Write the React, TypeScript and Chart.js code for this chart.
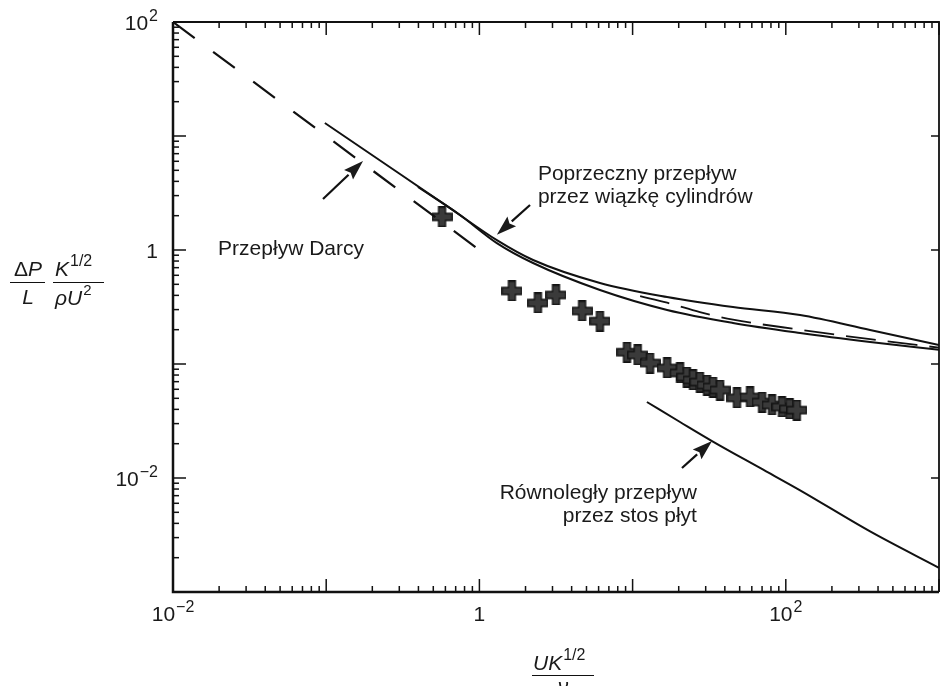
import React, { useEffect, useRef } from "react";
import { Chart, registerables } from "chart.js";

Chart.register(...registerables);

const FONT = '"Liberation Sans", Arial, Helvetica, sans-serif';

// ---------- data ----------
// Darcy flow (dashed)
const darcyX = [0.01, 1];
const darcyY = [100, 1];

// Cross flow through a bundle of cylinders (three curves)
const bundle1X = [0.098, 0.303, 0.643, 1.3, 2.24, 6.12, 16.8, 45.2, 124, 355, 1000];
const bundle1Y = [13.0, 4.64, 2.33, 1.22, 0.817, 0.514, 0.387, 0.316, 0.269, 0.199, 0.147];
const bundle2X = [0.397, 0.746, 1.3, 2.24, 6.12, 16.8, 45.2, 124, 355, 1000];
const bundle2Y = [3.57, 2.03, 1.15, 0.769, 0.446, 0.298, 0.229, 0.187, 0.156, 0.133];
const bundle3X = [11.2, 16.8, 27.5, 45.2, 124, 355, 1000];
const bundle3Y = [0.394, 0.345, 0.285, 0.245, 0.2, 0.165, 0.139];

// Parallel flow through a stack of plates
const platesX = [12.4, 20.4, 33.0, 67.9, 124, 355, 1000];
const platesY = [0.0464, 0.031, 0.0211, 0.01225, 0.0078, 0.0034, 0.00163];

// Experimental points (crosses)
const expX = [0.57, 1.63, 2.41, 3.16, 4.68, 6.12, 9.19, 10.8, 13.0, 16.8, 20.4, 22.6, 24.8, 27.5, 30.6, 33.5, 37.2, 48, 58.4, 70, 81.3, 94.4, 106, 118];
const expY = [1.95, 0.437, 0.343, 0.403, 0.292, 0.238, 0.127, 0.12, 0.102, 0.0923, 0.0834, 0.0769, 0.0724, 0.0695, 0.0654, 0.0628, 0.0591, 0.0504, 0.0514, 0.0464, 0.0437, 0.042, 0.0403, 0.0394];

// Axis ticks
const xMin = 0.01, xMax = 1000;
const yMin = 0.001, yMax = 100;
const xTickValues = [0.01, 1, 100];
const xTickBase = ["10", "1", "10"];
const xTickExp = ["\u22122", "", "2"];
const yTickValues = [100, 1, 0.01];
const yTickBase = ["10", "1", "10"];
const yTickExp = ["2", "", "\u22122"];

// Annotations (anchored in data coordinates)
const noteLines = [["Przepływ Darcy"], ["Poprzeczny przepływ", "przez wiązkę cylindrów"], ["Równoległy przepływ", "przez stos płyt"]];
const noteX = [0.0197, 2.41, 26.3];
const noteY = [1.02, 4.64, 0.0074];
const noteAlign = ["left", "left", "right"];
const arrowTailX = [0.0953, 2.14, 21];
const arrowTailY = [2.8, 2.48, 0.01225];
const arrowTipX = [0.174, 1.3, 33];
const arrowTipY = [6.04, 1.36, 0.0211];

const pts = (xs: number[], ys: number[]) => xs.map((x, i) => ({ x, y: ys[i] }));

function makeCross(size: number, arm: number) {
  const c = document.createElement("canvas");
  c.width = size;
  c.height = size;
  const g = c.getContext("2d")!;
  const a = (size - arm) / 2;
  const s = size - 0.75;
  const o = 0.75;
  g.beginPath();
  g.moveTo(a, o);
  g.lineTo(a + arm, o);
  g.lineTo(a + arm, a);
  g.lineTo(s, a);
  g.lineTo(s, a + arm);
  g.lineTo(a + arm, a + arm);
  g.lineTo(a + arm, s);
  g.lineTo(a, s);
  g.lineTo(a, a + arm);
  g.lineTo(o, a + arm);
  g.lineTo(o, a);
  g.lineTo(a, a);
  g.closePath();
  g.fillStyle = "#3a3a3a";
  g.fill();
  g.strokeStyle = "#111";
  g.lineWidth = 1.3;
  g.stroke();
  return c;
}

function drawSup(ctx: CanvasRenderingContext2D, base: string, exp: string, x: number, baseY: number, align: string, size: number, expSize: number, rise: number, italic = false) {
  const bf = `${italic ? "italic " : ""}${size}px ${FONT}`;
  const ef = `${expSize}px ${FONT}`;
  ctx.font = bf;
  const wb = ctx.measureText(base).width;
  ctx.font = ef;
  const we = exp ? ctx.measureText(exp).width + 1 : 0;
  const w = wb + we;
  let sx = x;
  if (align === "center") sx = x - w / 2;
  else if (align === "right") sx = x - w;
  ctx.textAlign = "left";
  ctx.textBaseline = "alphabetic";
  ctx.font = bf;
  ctx.fillText(base, sx, baseY);
  if (exp) {
    ctx.font = ef;
    ctx.fillText(exp, sx + wb + 1, baseY - rise);
  }
}

const decorPlugin = {
  id: "decor",
  afterDatasetsDraw(chart: any) {
    const { ctx, chartArea: a, scales } = chart;
    const xs = scales.x;
    const ys = scales.y;
    ctx.save();
    ctx.fillStyle = "#1a1a1a";
    ctx.strokeStyle = "#111";

    // frame
    ctx.lineWidth = 2.5;
    ctx.beginPath();
    ctx.moveTo(a.left, a.top);
    ctx.lineTo(a.left, a.bottom);
    ctx.lineTo(a.right, a.bottom);
    ctx.stroke();
    ctx.lineWidth = 1.8;
    ctx.beginPath();
    ctx.moveTo(a.left, a.top);
    ctx.lineTo(a.right, a.top);
    ctx.lineTo(a.right, a.bottom);
    ctx.stroke();

    // inward ticks
    ctx.lineWidth = 1.5;
    const major = 13, minor = 6;
    for (let e = -2; e <= 3; e++) {
      for (let m = 1; m <= 9; m++) {
        const v = m * Math.pow(10, e);
        if (v < xMin - 1e-12 || v > xMax + 1e-9) continue;
        const px = xs.getPixelForValue(v);
        const L = m === 1 ? major : minor;
        ctx.beginPath();
        ctx.moveTo(px, a.bottom);
        ctx.lineTo(px, a.bottom - L);
        ctx.moveTo(px, a.top);
        ctx.lineTo(px, a.top + L);
        ctx.stroke();
      }
    }
    for (let e = -3; e <= 2; e++) {
      for (let m = 1; m <= 9; m++) {
        const v = m * Math.pow(10, e);
        if (v < yMin - 1e-12 || v > yMax + 1e-9) continue;
        const py = ys.getPixelForValue(v);
        const L = m === 1 ? major : minor;
        ctx.beginPath();
        ctx.moveTo(a.left, py);
        ctx.lineTo(a.left + L, py);
        if (m === 1) {
          ctx.moveTo(a.right, py);
          ctx.lineTo(a.right - 8, py);
        }
        ctx.stroke();
      }
    }

    // tick labels
    xTickValues.forEach((v, i) => {
      const px = xs.getPixelForValue(v);
      drawSup(ctx, xTickBase[i], xTickExp[i], px, a.bottom + 29, "center", 21, 16, 9);
    });
    yTickValues.forEach((v, i) => {
      const py = ys.getPixelForValue(v);
      drawSup(ctx, yTickBase[i], yTickExp[i], 158, py + 8, "right", 21, 16, 9);
    });

    // y-axis title: (ΔP / L) (K^1/2 / ρU^2)
    ctx.lineWidth = 1.2;
    ctx.font = `21px ${FONT}`;
    const wD = ctx.measureText("\u0394").width;
    ctx.font = `italic 21px ${FONT}`;
    const wP = ctx.measureText("P").width;
    ctx.textAlign = "left";
    ctx.textBaseline = "alphabetic";
    const cx1 = 28;
    const r1 = 276, r2 = 304, fl = 282.5;
    ctx.font = `21px ${FONT}`;
    ctx.fillText("\u0394", cx1 - (wD + wP) / 2, r1);
    ctx.font = `italic 21px ${FONT}`;
    ctx.fillText("P", cx1 - (wD + wP) / 2 + wD, r1);
    ctx.beginPath();
    ctx.moveTo(10, fl);
    ctx.lineTo(45, fl);
    ctx.stroke();
    ctx.textAlign = "center";
    ctx.fillText("L", cx1, r2);
    drawSup(ctx, "K", "1/2", 55, r1, "left", 21, 16, 10, true);
    ctx.beginPath();
    ctx.moveTo(53, fl);
    ctx.lineTo(104, fl);
    ctx.stroke();
    drawSup(ctx, "\u03c1U", "2", 55, r2 + 1, "left", 21, 15, 10, true);

    // x-axis title: UK^1/2 / ν
    drawSup(ctx, "UK", "1/2", 533, 670, "left", 21, 16, 10, true);
    ctx.beginPath();
    ctx.moveTo(532, 675.5);
    ctx.lineTo(594, 675.5);
    ctx.stroke();
    ctx.font = `italic 21px ${FONT}`;
    ctx.textAlign = "center";
    ctx.fillText("\u03bd", 563, 693);

    // annotations
    ctx.font = `21px ${FONT}`;
    ctx.textBaseline = "middle";
    noteLines.forEach((lines, i) => {
      const px = xs.getPixelForValue(noteX[i]);
      const py = ys.getPixelForValue(noteY[i]);
      ctx.textAlign = noteAlign[i] as CanvasTextAlign;
      lines.forEach((t, j) => ctx.fillText(t, px, py + j * 23));
    });

    // arrows
    arrowTailX.forEach((_, i) => {
      const x0 = xs.getPixelForValue(arrowTailX[i]);
      const y0 = ys.getPixelForValue(arrowTailY[i]);
      const x1 = xs.getPixelForValue(arrowTipX[i]);
      const y1 = ys.getPixelForValue(arrowTipY[i]);
      const ang = Math.atan2(y1 - y0, x1 - x0);
      const hl = 20, hw = 6.5;
      const bx = x1 - hl * Math.cos(ang);
      const by = y1 - hl * Math.sin(ang);
      ctx.lineWidth = 2.2;
      ctx.beginPath();
      ctx.moveTo(x0, y0);
      ctx.lineTo(bx, by);
      ctx.stroke();
      ctx.beginPath();
      ctx.moveTo(x1, y1);
      ctx.lineTo(bx + hw * Math.sin(ang), by - hw * Math.cos(ang));
      ctx.lineTo(bx + 3 * Math.cos(ang), by + 3 * Math.sin(ang));
      ctx.lineTo(bx - hw * Math.sin(ang), by + hw * Math.cos(ang));
      ctx.closePath();
      ctx.fill();
    });

    ctx.restore();
  },
};

export default function App() {
  const ref = useRef<HTMLCanvasElement | null>(null);

  useEffect(() => {
    if (!ref.current) return;
    const cross = makeCross(21, 7);
    const lineBase = {
      type: "line" as const,
      borderColor: "#111",
      borderWidth: 2,
      pointRadius: 0,
      fill: false,
      cubicInterpolationMode: "monotone" as const,
    };
    const chart = new Chart(ref.current, {
      type: "line",
      data: {
        datasets: [
          { ...lineBase, label: "Przepływ Darcy", data: pts(darcyX, darcyY), borderDash: [27, 23], borderWidth: 2.2 },
          { ...lineBase, label: "Poprzeczny 1", data: pts(bundle1X, bundle1Y) },
          { ...lineBase, label: "Poprzeczny 2", data: pts(bundle2X, bundle2Y) },
          { ...lineBase, label: "Poprzeczny 3", data: pts(bundle3X, bundle3Y), borderDash: [30, 12], borderWidth: 1.8 },
          { ...lineBase, label: "Równoległy", data: pts(platesX, platesY) },
          {
            type: "scatter" as const,
            label: "Pomiary",
            data: pts(expX, expY),
            pointStyle: cross as any,
            pointRadius: 10,
            showLine: false,
          } as any,
        ],
      },
      options: {
        responsive: false,
        animation: false,
        layout: { autoPadding: false, padding: { top: 22, right: 1, left: 0, bottom: 0 } },
        plugins: { legend: { display: false }, tooltip: { enabled: false } },
        scales: {
          x: {
            type: "logarithmic",
            min: xMin,
            max: xMax,
            grid: { display: false, drawTicks: false },
            border: { display: false },
            ticks: { display: false },
            afterFit: (s: any) => { s.height = 94; s.paddingLeft = 0; s.paddingRight = 0; },
          },
          y: {
            type: "logarithmic",
            min: yMin,
            max: yMax,
            grid: { display: false, drawTicks: false },
            border: { display: false },
            ticks: { display: false },
            afterFit: (s: any) => { s.width = 173; s.paddingTop = 0; s.paddingBottom = 0; },
          },
        },
      },
      plugins: [decorPlugin],
    } as any);
    return () => chart.destroy();
  }, []);

  return (
    <div style={{ position: "fixed", left: 0, top: 0, width: 940, height: 686, background: "#fff" }}>
      <canvas ref={ref} width={940} height={686} style={{ display: "block" }} />
    </div>
  );
}
